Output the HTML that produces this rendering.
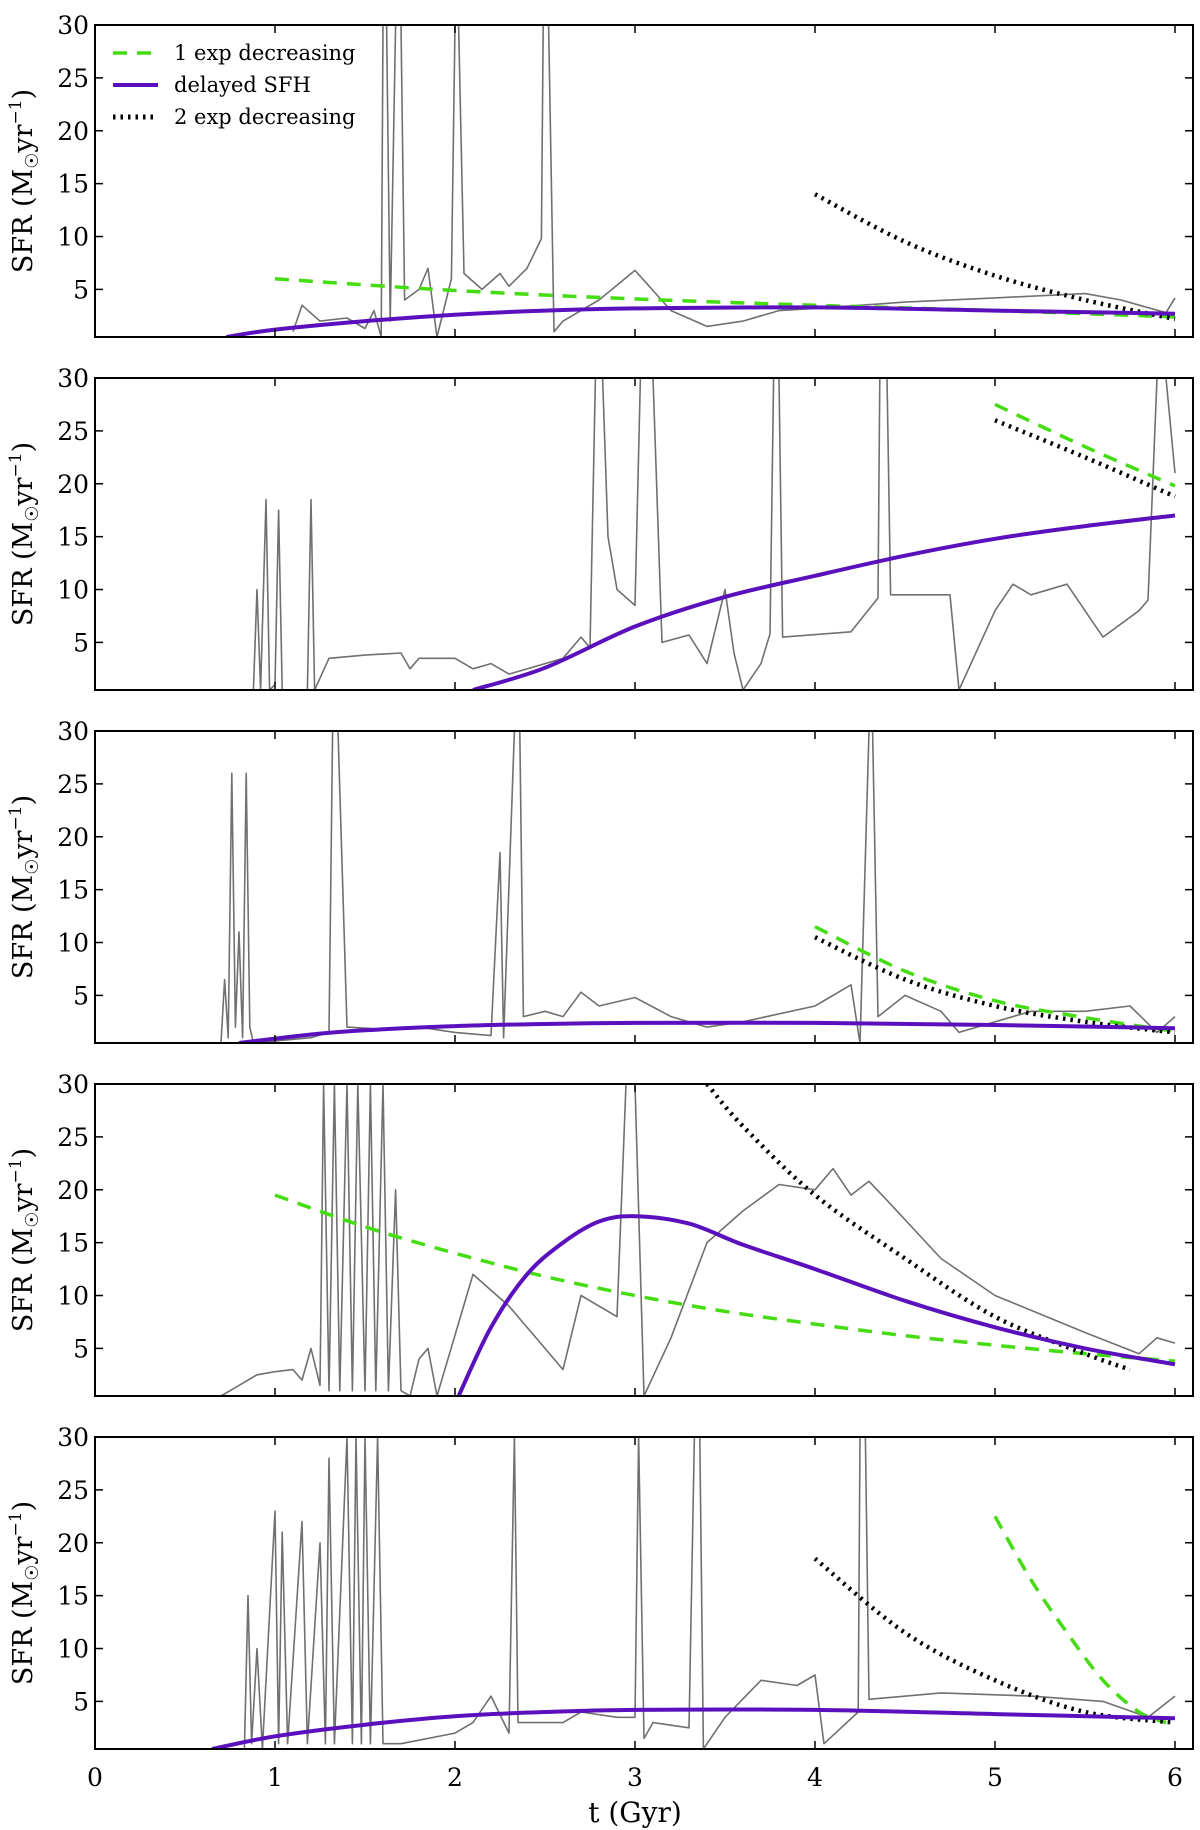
<!DOCTYPE html>
<html><head><meta charset="utf-8"><style>
body{margin:0;background:#fff}
svg{display:block}
text{font-family:"DejaVu Serif","Liberation Serif",serif;fill:#000}
</style></head><body>
<svg id="fig" width="1200" height="1830" viewBox="0 0 1200 1830" xmlns="http://www.w3.org/2000/svg"></svg>
<script>
// ---- data (t in Gyr, SFR in Msun/yr) ----
const xTicks=[0,1,2,3,4,5,6];
const yTicks=[5,10,15,20,25,30];
const legendLabels=["1 exp decreasing","delayed SFH","2 exp decreasing"];

const p1Gray=[[1.1,1],[1.15,3.5],[1.25,2],[1.4,2.3],[1.5,1.3],[1.55,3],[1.59,0.5],[1.6,30],[1.62,30],[1.64,2],[1.67,30],[1.7,30],[1.72,4],[1.8,5],[1.85,7],[1.9,0.5],[1.98,6],[2.0,30],[2.02,30],[2.05,6.5],[2.15,5],[2.25,6.5],[2.3,5.3],[2.4,7],[2.48,9.8],[2.49,30],[2.52,30],[2.55,1],[2.6,2],[2.8,4],[3.0,6.8],[3.2,3],[3.4,1.5],[3.6,2],[3.8,3],[4.0,3.2],[4.5,3.8],[5.0,4.2],[5.5,4.6],[5.7,4.0],[5.95,2.8],[6.0,4.2]];
const p1Green=[[1,6.0],[2,4.9],[3,4.1],[4,3.5],[5,3.0],[6,2.4]];
const p1Purple=[[0.73,0.5],[1,1.2],[1.5,2.0],[2,2.6],[2.5,3.0],[3,3.2],[4,3.3],[5,3.0],[6,2.7]];
const p1Black=[[4,14.0],[4.5,9.5],[5,6.3],[5.5,4.0],[6,2.2]];

const p2Gray=[[0.88,0.5],[0.9,10],[0.92,0.5],[0.95,18.5],[0.97,0.5],[1.0,1],[1.02,17.5],[1.04,0.5],[1.18,0.5],[1.2,18.5],[1.22,0.5],[1.3,3.5],[1.5,3.8],[1.7,4],[1.75,2.5],[1.8,3.5],[2.0,3.5],[2.1,2.5],[2.2,3],[2.3,2.0],[2.5,3],[2.6,3.5],[2.7,5.5],[2.75,4.5],[2.78,30],[2.82,30],[2.85,15],[2.9,10],[3.0,8.5],[3.03,30],[3.1,30],[3.15,5],[3.3,5.7],[3.4,3],[3.5,10],[3.55,4],[3.6,0.5],[3.7,3],[3.75,5.8],[3.77,30],[3.8,30],[3.82,5.5],[4.2,6],[4.35,9.2],[4.36,30],[4.4,30],[4.42,9.5],[4.75,9.5],[4.8,0.5],[5.0,8],[5.1,10.5],[5.2,9.5],[5.4,10.5],[5.5,8],[5.6,5.5],[5.8,8],[5.85,9],[5.9,30],[5.95,30],[6.0,21]];
const p2Green=[[5,27.5],[5.5,23.5],[6,19.8]];
const p2Purple=[[2.1,0.5],[2.5,2.6],[3,6.5],[3.5,9.3],[4,11.3],[4.5,13.2],[5,14.8],[5.5,16],[6,17]];
const p2Black=[[5,26],[5.5,22.5],[6,18.8]];

const p3Gray=[[0.7,0.5],[0.72,6.5],[0.74,1],[0.76,26],[0.78,2],[0.8,11],[0.82,1],[0.84,26],[0.86,2],[0.88,0.5],[1.2,1],[1.3,1.5],[1.32,30],[1.35,30],[1.4,2],[1.6,1.8],[1.8,2],[2.0,1.5],[2.2,1.2],[2.25,18.5],[2.27,1],[2.33,30],[2.36,30],[2.38,3],[2.5,3.5],[2.6,3],[2.7,5.3],[2.8,4],[3.0,4.8],[3.2,3],[3.4,2],[3.6,2.5],[4.0,4],[4.2,6],[4.25,0.5],[4.3,30],[4.32,30],[4.35,3],[4.5,5],[4.7,3.5],[4.8,1.5],[5.0,2.5],[5.2,3.5],[5.5,3.5],[5.75,4],[5.9,1.5],[6.0,3]];
const p3Green=[[4,11.5],[4.5,7.3],[5,4.5],[5.5,2.9],[6,1.6]];
const p3Purple=[[0.8,0.5],[1.2,1.3],[1.5,1.7],[2,2.1],[2.5,2.3],[3,2.4],[4,2.4],[5,2.2],[6,1.9]];
const p3Black=[[4,10.5],[4.5,6.5],[5,4],[5.5,2.5],[6,1.5]];

const p4Gray=[[0.7,0.5],[0.8,1.5],[0.9,2.5],[1.0,2.8],[1.1,3],[1.15,2],[1.2,5],[1.25,1.5],[1.27,30],[1.3,1],[1.33,30],[1.36,1],[1.4,30],[1.43,1],[1.46,30],[1.5,1],[1.53,30],[1.56,1],[1.6,30],[1.63,1],[1.67,20],[1.7,1],[1.75,0.5],[1.8,4],[1.85,5],[1.9,0.5],[2.1,12],[2.3,9],[2.5,5],[2.6,3],[2.7,10],[2.9,8],[2.95,30],[3.0,30],[3.05,0.5],[3.2,6],[3.4,15],[3.6,18],[3.8,20.5],[4.0,20],[4.1,22],[4.2,19.5],[4.3,20.8],[4.4,19],[4.7,13.5],[5.0,10],[5.5,6.5],[5.8,4.5],[5.9,6],[6.0,5.5]];
const p4Green=[[1,19.5],[1.5,16.5],[2,14],[2.5,11.8],[3,10],[3.5,8.5],[4,7.3],[4.5,6.2],[5,5.3],[5.5,4.5],[6,3.8]];
const p4Purple=[[2.02,0.5],[2.2,7],[2.4,12],[2.6,15],[2.8,17],[3,17.5],[3.3,16.8],[3.6,14.8],[4,12.5],[4.5,9.5],[5,7],[5.5,5],[6,3.5]];
const p4Black=[[3.4,30],[3.6,26],[4,19.5],[4.5,13.5],[5,8],[5.5,4.5],[5.75,3.0]];

const p5Gray=[[0.83,0.5],[0.85,15],[0.87,1],[0.9,10],[0.93,0.5],[1.0,23],[1.02,1],[1.04,21],[1.07,1],[1.15,22],[1.18,1],[1.25,20],[1.28,1],[1.3,28],[1.33,1],[1.4,30],[1.43,1],[1.45,30],[1.48,1],[1.5,30],[1.53,1],[1.57,30],[1.6,1],[1.7,1],[2.0,2],[2.1,3],[2.2,5.5],[2.3,2],[2.33,30],[2.35,3],[2.6,3],[2.7,4],[2.9,3.5],[3.0,3.5],[3.02,30],[3.05,1.5],[3.1,3],[3.3,2.5],[3.33,30],[3.36,30],[3.38,0.5],[3.5,3.5],[3.7,7],[3.9,6.5],[4.0,7.5],[4.05,1],[4.24,4],[4.25,30],[4.28,30],[4.3,5.2],[4.7,5.8],[5.2,5.5],[5.6,5],[5.85,3.5],[6.0,5.5]];
const p5Green=[[5,22.5],[5.2,16.5],[5.4,11.5],[5.6,7],[5.8,4],[5.95,3]];
const p5Purple=[[0.65,0.5],[1,1.7],[1.5,2.8],[2,3.6],[2.5,4],[3,4.2],[4,4.2],[5,3.8],[6,3.4]];
const p5Black=[[4,18.5],[4.5,11.5],[5,7],[5.5,4],[6,3]];

const panels=[
 {gray:p1Gray,green:p1Green,purple:p1Purple,black:p1Black},
 {gray:p2Gray,green:p2Green,purple:p2Purple,black:p2Black},
 {gray:p3Gray,green:p3Green,purple:p3Purple,black:p3Black},
 {gray:p4Gray,green:p4Green,purple:p4Purple,black:p4Black},
 {gray:p5Gray,green:p5Green,purple:p5Purple,black:p5Black}
];

// ---- layout ----
const NS="http://www.w3.org/2000/svg";
const svg=document.getElementById('fig');
const L=95,R=1193,PH=312,STEP=353,TOP0=25;
const XMIN=0,XMAX=6.1,YMIN=0.5,YMAX=30;
function xs(t){return L+(t-XMIN)/(XMAX-XMIN)*(R-L);}
function mk(tag,attrs,parent){const e=document.createElementNS(NS,tag);for(const k in attrs)e.setAttribute(k,attrs[k]);(parent||svg).appendChild(e);return e;}
function smoothPath(P){
  let d='M'+P[0][0].toFixed(1)+','+P[0][1].toFixed(1);
  for(let i=0;i<P.length-1;i++){
    const p0=P[Math.max(0,i-1)],p1=P[i],p2=P[i+1],p3=P[Math.min(P.length-1,i+2)];
    const c1=[p1[0]+(p2[0]-p0[0])/6,p1[1]+(p2[1]-p0[1])/6];
    const c2=[p2[0]-(p3[0]-p1[0])/6,p2[1]-(p3[1]-p1[1])/6];
    d+='C'+c1[0].toFixed(1)+','+c1[1].toFixed(1)+' '+c2[0].toFixed(1)+','+c2[1].toFixed(1)+' '+p2[0].toFixed(1)+','+p2[1].toFixed(1);
  }
  return d;
}

panels.forEach((p,i)=>{
  const top=TOP0+i*STEP,bot=top+PH;
  const ys=v=>bot-(v-YMIN)/(YMAX-YMIN)*PH;
  const g=mk('g',{});
  
  
  const cid='clip'+i;
  const cp=mk('clipPath',{id:cid},g);mk('rect',{x:L,y:top,width:R-L,height:PH},cp);
  const series=[
    ['gray',p.gray,{stroke:'#707070','stroke-width':1.6}],
    ['green',p.green,{stroke:'#44dd11','stroke-width':3.5,'stroke-dasharray':'14,10'}],
    ['black',p.black,{stroke:'#000','stroke-width':4.5,'stroke-dasharray':'2.5,5'}],
    ['purple',p.purple,{stroke:'#5a10bc','stroke-width':4}]
  ];
  const names={gray:'simulated-sfh-line',green:'one-exp-decreasing-line',black:'two-exp-decreasing-line',purple:'delayed-sfh-line'};
  series.forEach(([k,arr,st])=>{
    const P=arr.map(pt=>[xs(pt[0]),ys(pt[1])]);
    const d=k==='gray'?P.map((q,j)=>(j?'L':'M')+q[0].toFixed(1)+','+q[1].toFixed(1)).join(''):smoothPath(P);
    const path=mk('path',Object.assign({d:d,fill:'none','clip-path':'url(#'+cid+')','stroke-linejoin':'round'},st),g);
    
    
  });
  const frame=mk('rect',{x:L,y:top,width:R-L,height:PH,fill:'none',stroke:'#000','stroke-width':2},g);
  
  
  xTicks.forEach(t=>{
    const x=xs(t);
    mk('line',{x1:x,x2:x,y1:bot,y2:bot-8,stroke:'#000','stroke-width':1.5},g);
    mk('line',{x1:x,x2:x,y1:top,y2:top+8,stroke:'#000','stroke-width':1.5},g);
  });
  yTicks.forEach(v=>{
    const y=ys(v);
    mk('line',{x1:L,x2:L+8,y1:y,y2:y,stroke:'#000','stroke-width':1.5},g);
    mk('line',{x1:R,x2:R-8,y1:y,y2:y,stroke:'#000','stroke-width':1.5},g);
    const tl=mk('text',{x:L-6,y:y+9,'text-anchor':'end','font-size':25},g);
    tl.textContent=v;
    
    
  });
  const yl=mk('text',{transform:'translate(32,'+(top+PH/2)+') rotate(-90)','text-anchor':'middle','font-size':27},g);
  yl.innerHTML='SFR (M<tspan font-size="18" dy="6">☉</tspan><tspan dy="-6">yr</tspan><tspan font-size="17" dy="-11">−1</tspan><tspan dy="11">)</tspan>';
  
  
});

// x tick labels
xTicks.forEach(t=>{
  const tl=mk('text',{x:xs(t),y:1786,'text-anchor':'middle','font-size':25});
  tl.textContent=t;
  
  
});
const xl=mk('text',{x:xs(3),y:1822,'text-anchor':'middle','font-size':28});
xl.textContent='t (Gyr)';



// legend
const lg=mk('g',{});


const lstyles=[{stroke:'#44dd11','stroke-width':3.5,'stroke-dasharray':'14,10'},{stroke:'#5a10bc','stroke-width':4},{stroke:'#000','stroke-width':5,'stroke-dasharray':'2.5,5'}];
legendLabels.forEach((lab,j)=>{
  const y=53+j*32;
  mk('line',Object.assign({x1:113,x2:158,y1:y,y2:y},lstyles[j]),lg);
  const t=mk('text',{x:174,y:y+7,'font-size':21},lg);
  t.textContent=lab;
  
  
});
</script>
</body></html>
